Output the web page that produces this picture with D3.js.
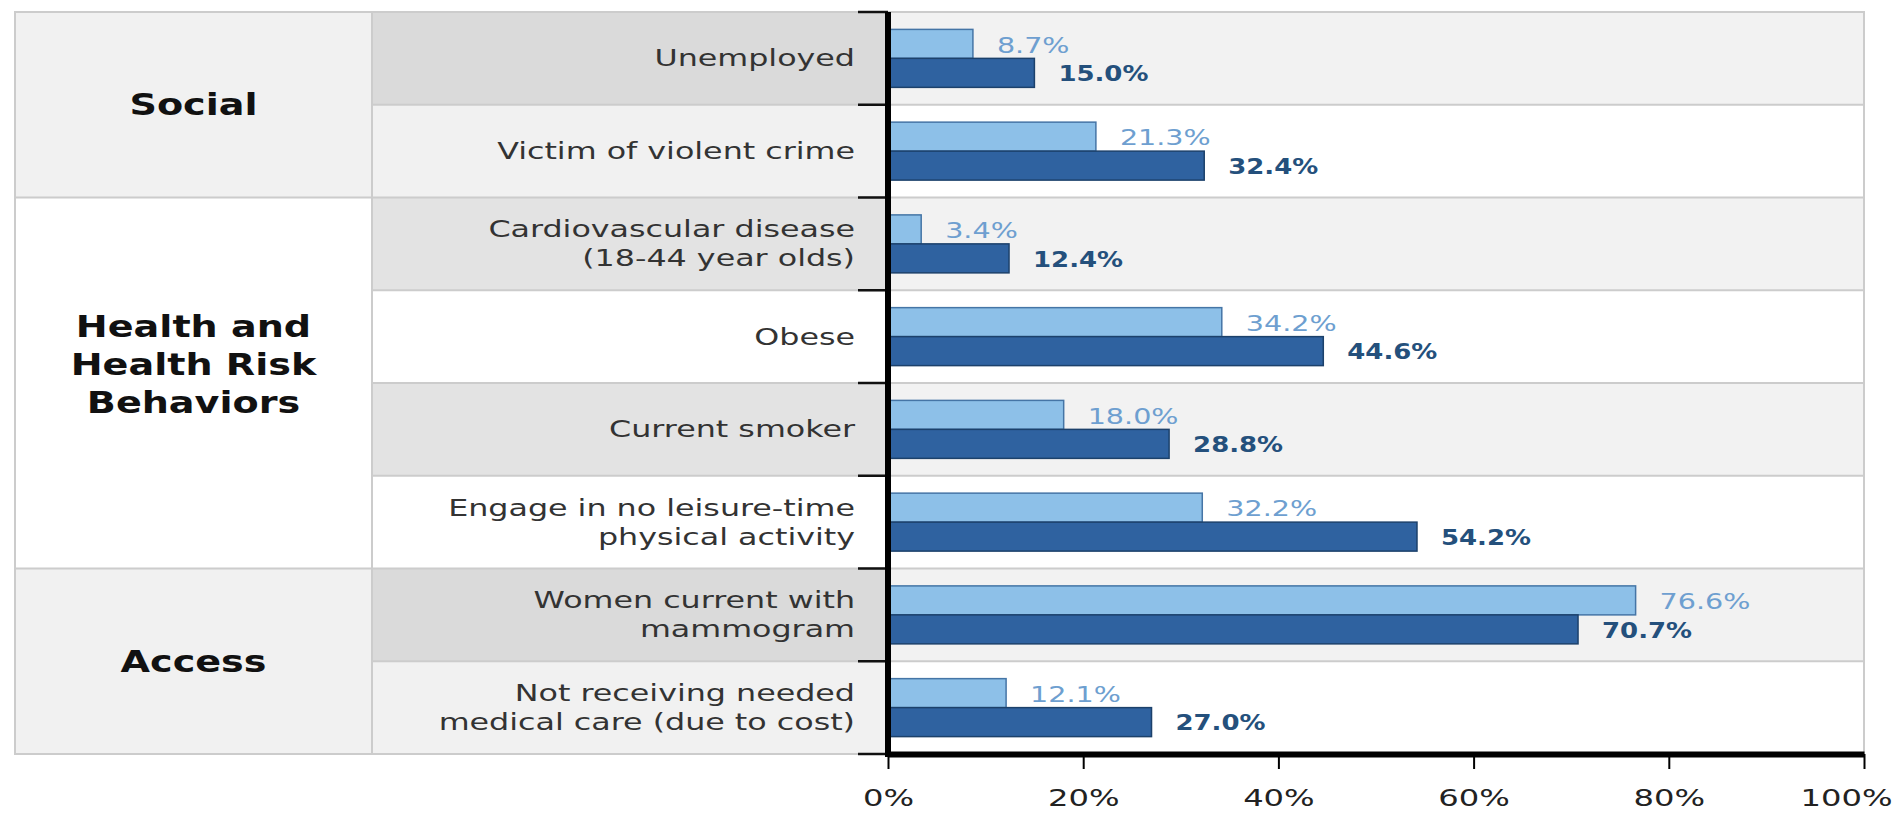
<!DOCTYPE html>
<html>
<head>
<meta charset="utf-8">
<script src="https://cdn.jsdelivr.net/npm/d3@7"></script>
<style>
  html, body { margin: 0; padding: 0; background: #fff; }
  svg { display: block; font-family: 'DejaVu Sans', sans-serif; }
</style>
</head>
<body>
<svg id="chart"></svg>
<script>
const groupLabels = [['Social'], ['Health and', 'Health Risk', 'Behaviors'], ['Access']];
const rowLabels = [
  ['Unemployed'],
  ['Victim of violent crime'],
  ['Cardiovascular disease', '(18-44 year olds)'],
  ['Obese'],
  ['Current smoker'],
  ['Engage in no leisure-time', 'physical activity'],
  ['Women current with', 'mammogram'],
  ['Not receiving needed', 'medical care (due to cost)']
];
const rowGroup = [0, 0, 1, 1, 1, 1, 2, 2];
const lightValues = [8.7, 21.3, 3.4, 34.2, 18.0, 32.2, 76.6, 12.1];
const darkValues = [15.0, 32.4, 12.4, 44.6, 28.8, 54.2, 70.7, 27.0];
const xTicks = [0, 20, 40, 60, 80, 100];

const width = 1896;
const height = 813;
const tableLeft = 15;
const catRight = 372;
const plotLeft = 888;
const plotRight = 1864;
const tableTop = 12;
const tableBottom = 754;
// the source picture is stretched sideways, so text gets a horizontal scale
const stretch = { row: 1.38, group: 1.23, light: 1.3, dark: 1.18, tick: 1.4 };

const svg = d3.select('#chart').attr('width', width).attr('height', height);

const x = d3.scaleLinear().domain([0, 100]).range([plotLeft, plotRight]);
const y = d3.scaleBand().domain(d3.range(rowLabels.length)).range([tableTop, tableBottom]);
const inner = d3.scaleBand().domain(['light', 'dark']).range([0, y.bandwidth()]).paddingOuter(0.6);

const rows = rowLabels.map((label, i) => ({
  i,
  label,
  group: rowGroup[i],
  light: lightValues[i],
  dark: darkValues[i]
}));

// group cells
const groupRows = groupLabels.map((lines, g) => {
  const idx = rows.filter(r => r.group === g).map(r => r.i);
  return { g, lines, y0: y(d3.min(idx)), y1: y(d3.max(idx)) + y.bandwidth() };
});

const bg = svg.append('g');
bg.selectAll('.group-cell')
  .data(groupRows)
  .enter()
  .append('rect')
  .attr('x', tableLeft)
  .attr('y', d => d.y0)
  .attr('width', catRight - tableLeft)
  .attr('height', d => d.y1 - d.y0)
  .attr('fill', d => (d.g % 2 === 0 ? '#f1f1f1' : '#ffffff'));

bg.selectAll('.label-cell')
  .data(rows)
  .enter()
  .append('rect')
  .attr('x', catRight)
  .attr('y', d => y(d.i))
  .attr('width', plotLeft - catRight)
  .attr('height', y.bandwidth())
  .attr('fill', d => {
    if (d.group % 2 === 0) return d.i % 2 === 0 ? '#dadada' : '#f1f1f1';
    return d.i % 2 === 0 ? '#e3e3e3' : '#ffffff';
  });

bg.selectAll('.plot-cell')
  .data(rows)
  .enter()
  .append('rect')
  .attr('x', plotLeft)
  .attr('y', d => y(d.i))
  .attr('width', plotRight - plotLeft)
  .attr('height', y.bandwidth())
  .attr('fill', d => (d.i % 2 === 0 ? '#f2f2f2' : '#ffffff'));

// grid lines
const grid = svg.append('g').attr('stroke', '#cccccc').attr('stroke-width', 2);
rows.forEach(r => {
  if (r.i === 0) return;
  const startsGroup = rowGroup[r.i] !== rowGroup[r.i - 1];
  grid.append('line')
    .attr('x1', startsGroup ? tableLeft : catRight)
    .attr('x2', plotRight)
    .attr('y1', y(r.i))
    .attr('y2', y(r.i));
});
grid.append('line').attr('x1', catRight).attr('x2', catRight).attr('y1', tableTop).attr('y2', tableBottom);
grid.append('rect')
  .attr('x', tableLeft)
  .attr('y', tableTop)
  .attr('width', plotRight - tableLeft)
  .attr('height', tableBottom - tableTop)
  .attr('fill', 'none');

// bars
const bars = svg.append('g');
bars.selectAll('.bar-light')
  .data(rows)
  .enter()
  .append('rect')
  .attr('x', x(0))
  .attr('y', d => y(d.i) + inner('light'))
  .attr('width', d => x(d.light) - x(0))
  .attr('height', inner.bandwidth())
  .attr('fill', '#8dc0e8')
  .attr('stroke', '#4575a6')
  .attr('stroke-width', 1.5);
bars.selectAll('.bar-dark')
  .data(rows)
  .enter()
  .append('rect')
  .attr('x', x(0))
  .attr('y', d => y(d.i) + inner('dark'))
  .attr('width', d => x(d.dark) - x(0))
  .attr('height', inner.bandwidth())
  .attr('fill', '#2f62a0')
  .attr('stroke', '#1c416b')
  .attr('stroke-width', 1.5);

// value labels
const valueLabels = svg.append('g');
['light', 'dark'].forEach(key => {
  valueLabels.selectAll('.v-' + key)
    .data(rows)
    .enter()
    .append('text')
    .attr('transform', d => `translate(${x(d[key]) + 24}, ${y(d.i) + inner(key) + inner.bandwidth() / 2 + 1}) scale(${stretch[key]}, 1)`)
    .attr('dominant-baseline', 'central')
    .attr('font-size', 22)
    .attr('font-weight', key === 'light' ? 'normal' : 'bold')
    .attr('fill', key === 'light' ? '#6e9fd0' : '#24507c')
    .text(d => d[key].toFixed(1) + '%');
});

// row labels
const rowLineH = 29;
const rowText = svg.append('g');
rows.forEach(r => {
  const cy = y(r.i) + y.bandwidth() / 2;
  r.label.forEach((line, k) => {
    rowText.append('text')
      .attr('transform', `translate(855, ${cy + (k - (r.label.length - 1) / 2) * rowLineH}) scale(${stretch.row}, 1)`)
      .attr('text-anchor', 'end')
      .attr('dominant-baseline', 'central')
      .attr('font-size', 23)
      .attr('fill', '#333333')
      .text(line);
  });
});

// group labels
const groupLineH = 37.6;
const groupText = svg.append('g');
groupRows.forEach(gr => {
  const cy = (gr.y0 + gr.y1) / 2 - (gr.lines.length > 1 ? groupLineH / 2 : 0);
  gr.lines.forEach((line, k) => {
    groupText.append('text')
      .attr('transform', `translate(${(tableLeft + catRight) / 2}, ${cy + (k - (gr.lines.length - 1) / 2) * groupLineH}) scale(${stretch.group}, 1)`)
      .attr('text-anchor', 'middle')
      .attr('dominant-baseline', 'central')
      .attr('font-size', 31)
      .attr('font-weight', 'bold')
      .attr('fill', '#111111')
      .text(line);
  });
});

// band boundary ticks left of the axis
svg.append('g')
  .selectAll('line')
  .data(d3.range(rowLabels.length + 1))
  .enter()
  .append('line')
  .attr('x1', plotLeft - 30)
  .attr('x2', plotLeft)
  .attr('y1', d => tableTop + d * y.step())
  .attr('y2', d => tableTop + d * y.step())
  .attr('stroke', '#111')
  .attr('stroke-width', 2.5);

// vertical axis line
svg.append('line')
  .attr('x1', plotLeft)
  .attr('x2', plotLeft)
  .attr('y1', tableTop)
  .attr('y2', tableBottom + 3)
  .attr('stroke', '#000')
  .attr('stroke-width', 6);

// bottom axis
const xAxis = svg.append('g')
  .attr('transform', `translate(0, ${tableBottom})`)
  .call(d3.axisBottom(x).tickValues(xTicks).tickFormat(d => d + '%').tickSize(15).tickSizeOuter(0).tickPadding(21));
xAxis.select('.domain').attr('stroke', '#000').attr('stroke-width', 6);
xAxis.selectAll('.tick line').attr('stroke', '#000').attr('stroke-width', 2);
xAxis.selectAll('.tick text')
  .attr('font-size', 23)
  .attr('font-family', 'DejaVu Sans, sans-serif')
  .attr('fill', '#222')
  .attr('transform', `scale(${stretch.tick}, 1)`);
xAxis.selectAll('.tick text')
  .filter(d => d === 100)
  .attr('text-anchor', 'end')
  .attr('x', (width - 4 - plotRight) / stretch.tick);
</script>
</body>
</html>
